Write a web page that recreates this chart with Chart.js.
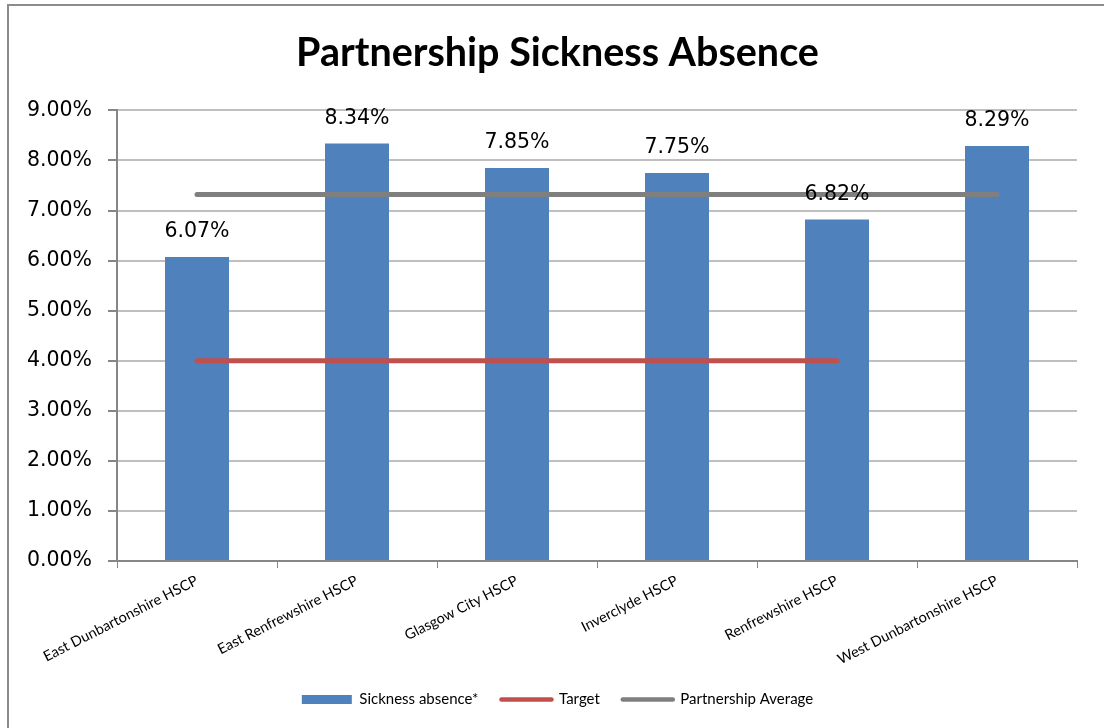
<!DOCTYPE html>
<html>
<head>
<meta charset="utf-8">
<script src="https://cdn.jsdelivr.net/npm/chart.js@4"></script>
<style>
html,body{margin:0;padding:0;background:#fff;}
#wrap{position:relative;width:1104px;height:728px;}
</style>
</head>
<body>
<div id="wrap"><canvas id="c" width="1104" height="728"></canvas></div>
<script>
const categories = ["East Dunbartonshire HSCP","East Renfrewshire HSCP","Glasgow City HSCP","Inverclyde HSCP","Renfrewshire HSCP","West Dunbartonshire HSCP"];
const sicknessAbsence = [6.07, 8.34, 7.85, 7.75, 6.82, 8.29];
const target = [4, 4, 4, 4, 4, null];
const partnershipAverage = [7.32, 7.32, 7.32, 7.32, 7.32, 7.32];
const yTicks = [0,1,2,3,4,5,6,7,8,9];

const frame = {
  id: 'frame',
  beforeDraw(chart){
    const ctx = chart.ctx;
    ctx.save();
    ctx.fillStyle = '#fff';
    ctx.fillRect(0,0,chart.width,chart.height);
    ctx.strokeStyle = '#8c8c8c';
    ctx.lineWidth = 2;
    ctx.beginPath();
    ctx.moveTo(8, 728); ctx.lineTo(8, 5); ctx.lineTo(1104, 5);
    ctx.stroke();
    ctx.restore();
  }
};
const dataLabels = {
  id: 'dataLabels',
  afterDatasetsDraw(chart){
    const ctx = chart.ctx;
    const meta = chart.getDatasetMeta(0);
    ctx.save();
    ctx.font = '20.5px "DejaVu Sans"';
    ctx.fillStyle = '#000';
    ctx.textAlign = 'center';
    ctx.textBaseline = 'middle';
    meta.data.forEach((bar, i) => {
      ctx.fillText(sicknessAbsence[i].toFixed(2) + '%', bar.x, bar.y - 25);
    });
    ctx.restore();
  }
};

new Chart(document.getElementById('c'), {
  type: 'bar',
  data: {
    labels: categories,
    datasets: [
      { type:'bar', label:'Sickness absence*', data: sicknessAbsence, backgroundColor:'#4F81BD', borderWidth:0,
        categoryPercentage:1, barPercentage:0.4, order:2, yAxisID:'y' },
      { type:'line', label:'Target', data: target, borderColor:'#C0504D', backgroundColor:'#C0504D', borderWidth:5,
        pointRadius:0, borderCapStyle:'round', fill:false, order:1, spanGaps:false, yAxisID:'y' },
      { type:'line', label:'Partnership Average', data: partnershipAverage, borderColor:'#7F7F7F', backgroundColor:'#7F7F7F', borderWidth:5,
        pointRadius:0, borderCapStyle:'round', fill:false, order:0, yAxisID:'y' }
    ]
  },
  options: {
    responsive:false,
    animation:false,
    layout:{ padding:{ left:20, right:9, top:0, bottom:11 } },
    plugins:{
      title:{ display:true, text:'Partnership Sickness Absence', color:'#000',
        font:{ family:'Lato', size:39.5, weight:'bold' }, padding:{ top:30, bottom:33 } },
      legend:{ position:'bottom',
        labels:{ usePointStyle:true, pointStyleWidth:50, boxHeight:9, padding:23, color:'#000',
          font:{ family:'Lato', size:15 },
          generateLabels(chart){
            return chart.data.datasets.map((ds,i)=>({
              text: ds.label, fillStyle: ds.backgroundColor, strokeStyle: ds.borderColor,
              lineWidth: i===0 ? 0 : 4.5, pointStyle: i===0 ? 'rect' : 'line', lineCap:'round',
              hidden:false, datasetIndex:i
            }));
          } } },
      tooltip:{ enabled:false }
    },
    scales:{
      x:{
        grid:{ display:true, drawOnChartArea:false, drawTicks:true, tickLength:7, tickColor:'#868686', offset:true },
        border:{ display:true, color:'#868686', width:2 },
        ticks:{ color:'#000', font:{ family:'Lato', size:14.5 }, maxRotation:27, minRotation:27, autoSkip:false, padding:4 },
        afterFit(scale){ scale.height = 108; }
      },
      y:{
        min:0, max:9,
        afterBuildTicks(scale){ scale.ticks = yTicks.map(v=>({value:v})); },
        grid:{ color:'#BFBFBF', lineWidth:2, tickLength:9, tickColor:'#868686' },
        border:{ display:true, color:'#868686', width:2 },
        ticks:{ color:'#000', font:{ family:'DejaVu Sans', size:20.5 }, padding:16,
          callback:(v)=> Number(v).toFixed(2) + '%' },
        afterFit(scale){ scale.width = 97; }
      },
      y2:{
        position:'right', min:0, max:9, display:true,
        grid:{ drawOnChartArea:false, drawTicks:false },
        border:{ display:false },
        ticks:{ display:false },
        afterFit(scale){ scale.width = 18; }
      }
    }
  },
  plugins:[frame, dataLabels]
});
</script>
</body>
</html>
